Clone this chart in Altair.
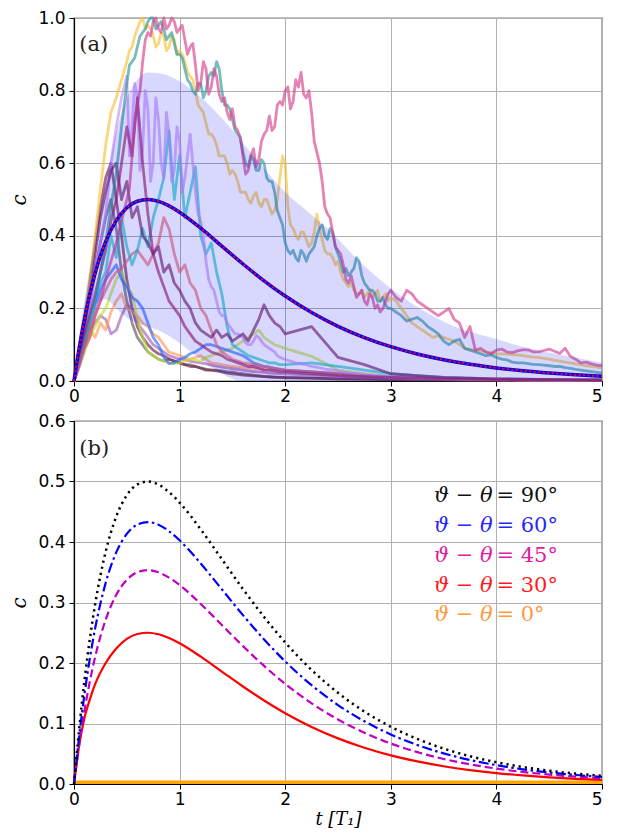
import altair as alt
import pandas as pd

# ---------------- data ----------------
# smooth curves (panel b and mean curve of panel a)
T_SMOOTH = [0, 0.05, 0.1, 0.15, 0.2, 0.3, 0.4, 0.5, 0.6, 0.7, 0.8, 0.9, 1.0, 1.2, 1.4,
            1.6, 1.8, 2.0, 2.25, 2.5, 2.75, 3.0, 3.25, 3.5, 3.75, 4.0, 4.25, 4.5, 4.75, 5.0]
C_90 = [0, 0.0928, 0.1722, 0.2398, 0.2968, 0.384, 0.442, 0.4773, 0.4952, 0.5, 0.4949, 0.4825,
        0.4651, 0.4209, 0.3716, 0.3223, 0.276, 0.234, 0.1886, 0.1507, 0.1197, 0.0946, 0.0745,
        0.0586, 0.0459, 0.036, 0.0281, 0.022, 0.0172, 0.0134]
C_60 = [0, 0.0804, 0.1491, 0.2077, 0.257, 0.3325, 0.3828, 0.4133, 0.4288, 0.433, 0.4286, 0.4178,
        0.4028, 0.3645, 0.3218, 0.2791, 0.239, 0.2026, 0.1633, 0.1305, 0.1037, 0.0819, 0.0645,
        0.0507, 0.0397, 0.0312, 0.0243, 0.0191, 0.0149, 0.0116]
C_45 = [0, 0.0656, 0.1218, 0.1696, 0.2099, 0.2715, 0.3125, 0.3375, 0.3502, 0.3536, 0.3499, 0.3412,
        0.3289, 0.2976, 0.2628, 0.2279, 0.1952, 0.1655, 0.1334, 0.1066, 0.0846, 0.0669, 0.0527,
        0.0414, 0.0325, 0.0255, 0.0199, 0.0156, 0.0122, 0.0095]
C_30 = [0, 0.065, 0.11, 0.14, 0.165, 0.2, 0.224, 0.24, 0.248, 0.25, 0.2475, 0.2413, 0.2326,
        0.2105, 0.1858, 0.1612, 0.138, 0.117, 0.0943, 0.0754, 0.0599, 0.0473, 0.0373, 0.0293,
        0.023, 0.018, 0.0141, 0.011, 0.0086, 0.0067]
T_ZERO = [0, 5]
C_0 = [0.003, 0.003]

# shaded band of panel (a)
BAND_T = [0, 0.1, 0.2, 0.3, 0.4, 0.5, 0.6, 0.7, 0.8, 0.9, 1.0, 1.2, 1.4, 1.6, 1.8, 2.0, 2.2,
          2.4, 2.7, 3.0, 3.3, 3.6, 4.0, 4.3, 4.6, 5.0]
BAND_UP = [0, 0.224, 0.384, 0.543, 0.684, 0.779, 0.83, 0.85, 0.848, 0.84, 0.825, 0.782, 0.724,
           0.655, 0.585, 0.52, 0.47, 0.42, 0.33, 0.255, 0.195, 0.15, 0.115, 0.09, 0.072, 0.05]
BAND_LO = [0, 0.12, 0.21, 0.225, 0.2, 0.175, 0.16, 0.15, 0.14, 0.125, 0.105, 0.06, 0.02,
           0, 0, 0, 0, 0, 0, 0, 0, 0, 0, 0, 0, 0]

# sampling times of the trajectories
T_A = [round(0.05 * i, 2) for i in range(61)] + [round(3.1 + 0.1 * i, 1) for i in range(20)]
T_MID = [round(0.525 + 0.05 * i, 3) for i in range(50)] + [round(3.05 + 0.1 * i, 2) for i in range(20)]
T_B = [round(0.05 * i, 2) for i in range(41)] + [2.25, 2.5, 2.75, 3.0, 3.25, 3.5, 3.75, 4.0,
                                                  4.25, 4.5, 4.75, 5.0]

C_PINK = [0, 0.04, 0.09, 0.12, 0.18, 0.22, 0.28, 0.33, 0.38, 0.44, 0.5,
          0.62, 0.76, 0.88, 0.96, 0.99, 0.97, 1.0, 0.98, 0.99, 0.97,
          0.94, 0.92, 0.87, 0.82, 0.86, 0.81, 0.84, 0.77, 0.74, 0.75,
          0.69, 0.62, 0.58, 0.64, 0.61, 0.68, 0.73, 0.7, 0.77, 0.8,
          0.75, 0.83, 0.85, 0.78, 0.74, 0.63, 0.55, 0.46, 0.41, 0.36,
          0.32, 0.27, 0.26, 0.24, 0.22, 0.24, 0.2, 0.19, 0.22, 0.25,
          0.22, 0.24, 0.21, 0.19, 0.19, 0.17, 0.12, 0.085, 0.08, 0.085,
          0.08, 0.083, 0.086, 0.08, 0.088, 0.076, 0.068, 0.05, 0.047, 0.042]
C_PINK_MID = [0.53, 0.72, 0.8, 0.94, 0.95, 1.0, 0.96, 0.97, 1.0, 0.96,
              0.98, 0.9, 0.93, 0.8, 0.88, 0.79, 0.86, 0.79, 0.78, 0.72,
              0.7, 0.67, 0.57, 0.62, 0.59, 0.66, 0.69, 0.69, 0.76, 0.76,
              0.81, 0.77, 0.81, 0.79, 0.8, 0.66, 0.6, 0.48, 0.45, 0.37,
              0.35, 0.28, 0.29, 0.23, 0.25, 0.21, 0.23, 0.21, 0.2, 0.24,
              0.23, 0.25, 0.22, 0.2, 0.18, 0.2, 0.16, 0.15, 0.09, 0.075,
              0.088, 0.078, 0.086, 0.08, 0.084, 0.082, 0.09, 0.06, 0.052, 0.044]
C_TEAL = [0, 0.05, 0.1, 0.16, 0.22, 0.3, 0.38, 0.48, 0.57, 0.7, 0.82,
          0.88, 0.92, 0.96, 0.99, 1.0, 0.98, 0.97, 0.95, 0.93, 0.9,
          0.86, 0.82, 0.79, 0.82, 0.8, 0.85, 0.88, 0.8, 0.76, 0.72,
          0.68, 0.63, 0.59, 0.61, 0.58, 0.6, 0.55, 0.52, 0.45, 0.38,
          0.35, 0.34, 0.36, 0.33, 0.36, 0.4, 0.43, 0.39, 0.41, 0.35,
          0.3, 0.29, 0.31, 0.33, 0.27, 0.25, 0.24, 0.22, 0.21, 0.2,
          0.18, 0.17, 0.165, 0.14, 0.11, 0.11, 0.09, 0.08, 0.07, 0.065,
          0.058, 0.05, 0.048, 0.045, 0.042, 0.04, 0.035, 0.03, 0.026, 0.022]
C_TEAL_MID = [0.87, 0.89, 0.95, 0.97, 1.0, 0.97, 0.99, 0.94, 0.96, 0.9,
              0.89, 0.83, 0.8, 0.82, 0.78, 0.84, 0.84, 0.86, 0.76, 0.75,
              0.69, 0.67, 0.6, 0.62, 0.58, 0.61, 0.56, 0.55, 0.47, 0.43,
              0.36, 0.36, 0.33, 0.35, 0.35, 0.37, 0.42, 0.4, 0.42, 0.37,
              0.33, 0.31, 0.3, 0.34, 0.29, 0.26, 0.25, 0.22, 0.23, 0.2,
              0.19, 0.165, 0.175, 0.15, 0.13, 0.1, 0.115, 0.085, 0.075, 0.072,
              0.06, 0.052, 0.05, 0.046, 0.044, 0.04, 0.037, 0.032, 0.028, 0.024]
C_YELLOW = [0, 0.09, 0.18, 0.28, 0.4, 0.53, 0.65, 0.74, 0.78, 0.83, 0.88,
            0.92, 0.97, 1.0, 0.98, 0.95, 0.93, 0.95, 0.92, 0.94, 0.91,
            0.88, 0.84, 0.8, 0.75, 0.71, 0.68, 0.65, 0.62, 0.6, 0.58,
            0.55, 0.52, 0.5, 0.51, 0.49, 0.5, 0.48, 0.47, 0.56, 0.6,
            0.43, 0.4, 0.41, 0.39, 0.38, 0.46, 0.39, 0.35, 0.34, 0.33,
            0.28, 0.26, 0.25, 0.24, 0.23, 0.25, 0.24, 0.22, 0.24, 0.23,
            0.2, 0.16, 0.14, 0.12, 0.12, 0.11, 0.09, 0.085, 0.08, 0.075,
            0.074, 0.072, 0.068, 0.065, 0.06, 0.055, 0.05, 0.045, 0.04, 0.036]
C_YELLOW_MID = [0.91, 0.95, 0.99, 0.97, 0.97, 0.92, 0.96, 0.91, 0.95, 0.9,
                0.9, 0.85, 0.83, 0.76, 0.74, 0.68, 0.67, 0.62, 0.62, 0.57,
                0.57, 0.52, 0.52, 0.49, 0.52, 0.48, 0.5, 0.46, 0.5, 0.62,
                0.48, 0.42, 0.39, 0.41, 0.37, 0.41, 0.42, 0.36, 0.35, 0.32,
                0.3, 0.27, 0.27, 0.24, 0.25, 0.24, 0.23, 0.25, 0.23, 0.22,
                0.22, 0.18, 0.15, 0.13, 0.125, 0.115, 0.1, 0.088, 0.082, 0.078,
                0.075, 0.073, 0.07, 0.066, 0.062, 0.057, 0.052, 0.047, 0.042, 0.038]
C_LAVENDER = [0, 0.06, 0.12, 0.2, 0.3, 0.38, 0.46, 0.6, 0.7, 0.78, 0.84,
              0.7, 0.78, 0.64, 0.75, 0.6, 0.72, 0.56, 0.68, 0.58, 0.66,
              0.56, 0.68, 0.52, 0.44, 0.33, 0.26, 0.22, 0.18, 0.16, 0.14,
              0.13, 0.12, 0.1, 0.11, 0.12, 0.1, 0.09, 0.08, 0.065, 0.06,
              0.055, 0.05, 0.048, 0.045, 0.04, 0.038, 0.035, 0.032, 0.03, 0.028,
              0.025, 0.023, 0.021, 0.02, 0.018, 0.016, 0.015, 0.014, 0.013, 0.012,
              0.011, 0.01, 0.009, 0.008, 0.008, 0.007, 0.006, 0.006, 0.005, 0.005,
              0.004, 0.004, 0.004, 0.003, 0.003, 0.003, 0.002, 0.002, 0.002, 0.002]
C_LAVENDER_MID = [0.62, 0.82, 0.58, 0.8, 0.55, 0.78, 0.6, 0.74, 0.55, 0.7,
                  0.52, 0.62, 0.6, 0.46, 0.4, 0.28, 0.25, 0.19, 0.18, 0.15,
                  0.13, 0.125, 0.105, 0.1, 0.125, 0.11, 0.095, 0.085, 0.07, 0.062,
                  0.057, 0.052, 0.049, 0.046, 0.042, 0.039, 0.036, 0.033, 0.031, 0.029,
                  0.026, 0.024, 0.022, 0.02, 0.019, 0.017, 0.015, 0.014, 0.013, 0.012,
                  0.011, 0.01, 0.009, 0.008, 0.008, 0.007, 0.006, 0.006, 0.005, 0.005,
                  0.004, 0.004, 0.004, 0.003, 0.003, 0.003, 0.002, 0.002, 0.002, 0.002]

C_TURQ = [0, 0.06, 0.12, 0.17, 0.22, 0.27, 0.3, 0.4, 0.34, 0.45, 0.37,
          0.32, 0.36, 0.42, 0.37, 0.45, 0.5, 0.56, 0.69, 0.5, 0.62,
          0.45, 0.52, 0.59, 0.4, 0.35, 0.38, 0.3, 0.24, 0.15, 0.1,
          0.09, 0.08, 0.07, 0.065, 0.06, 0.055, 0.05, 0.05, 0.045, 0.045,
          0.05, 0.04, 0.03, 0.02, 0.015, 0.01, 0.008, 0.006, 0.005, 0.004, 0.003, 0.003]
C_CRIMSON = [0, 0.06, 0.12, 0.18, 0.24, 0.3, 0.36, 0.44, 0.5, 0.6, 0.7,
             0.62, 0.78, 0.6, 0.46, 0.35, 0.3, 0.26, 0.22, 0.2, 0.18,
             0.15, 0.13, 0.11, 0.1, 0.09, 0.08, 0.075, 0.07, 0.06, 0.055,
             0.05, 0.045, 0.04, 0.04, 0.035, 0.03, 0.03, 0.028, 0.025, 0.025,
             0.02, 0.015, 0.012, 0.01, 0.008, 0.006, 0.005, 0.004, 0.003, 0.003, 0.002, 0.002]
C_PLUM = [0, 0.07, 0.15, 0.25, 0.35, 0.45, 0.52, 0.58, 0.6, 0.5, 0.55,
          0.45, 0.48, 0.4, 0.38, 0.35, 0.37, 0.3, 0.32, 0.27, 0.25,
          0.22, 0.2, 0.16, 0.14, 0.13, 0.12, 0.14, 0.12, 0.13, 0.11,
          0.12, 0.13, 0.11, 0.14, 0.17, 0.21, 0.18, 0.16, 0.15, 0.13,
          0.15, 0.065, 0.045, 0.02, 0.015, 0.01, 0.008, 0.006, 0.005, 0.004, 0.003, 0.002]
C_MAROON = [0, 0.08, 0.17, 0.27, 0.38, 0.48, 0.56, 0.6, 0.5, 0.4, 0.28,
            0.2, 0.15, 0.12, 0.1, 0.085, 0.075, 0.07, 0.06, 0.055, 0.05,
            0.045, 0.04, 0.04, 0.035, 0.03, 0.03, 0.028, 0.025, 0.022, 0.02,
            0.018, 0.016, 0.015, 0.014, 0.013, 0.012, 0.011, 0.01, 0.01, 0.009,
            0.008, 0.006, 0.005, 0.004, 0.003, 0.003, 0.002, 0.002, 0.002, 0.001, 0.001, 0.001]
C_GRAY = [0, 0.07, 0.14, 0.22, 0.3, 0.38, 0.45, 0.5, 0.42, 0.3, 0.22,
          0.16, 0.12, 0.1, 0.08, 0.07, 0.06, 0.055, 0.06, 0.055, 0.05,
          0.045, 0.045, 0.04, 0.036, 0.033, 0.03, 0.03, 0.028, 0.026, 0.025,
          0.022, 0.02, 0.018, 0.016, 0.015, 0.013, 0.012, 0.011, 0.01, 0.01,
          0.008, 0.006, 0.005, 0.004, 0.003, 0.003, 0.002, 0.002, 0.002, 0.001, 0.001, 0.001]
C_BLUE = [0, 0.05, 0.1, 0.15, 0.2, 0.25, 0.28, 0.3, 0.32, 0.28, 0.26,
          0.23, 0.22, 0.2, 0.16, 0.12, 0.1, 0.065, 0.048, 0.05, 0.06,
          0.065, 0.075, 0.08, 0.09, 0.1, 0.1, 0.095, 0.09, 0.085, 0.08,
          0.075, 0.07, 0.06, 0.05, 0.045, 0.04, 0.038, 0.035, 0.032, 0.03,
          0.025, 0.02, 0.015, 0.01, 0.008, 0.006, 0.005, 0.004, 0.003, 0.003, 0.002, 0.002]
C_YGREEN = [0, 0.04, 0.08, 0.12, 0.15, 0.18, 0.2, 0.24, 0.28, 0.3, 0.26,
            0.24, 0.17, 0.12, 0.08, 0.07, 0.06, 0.055, 0.05, 0.048, 0.05,
            0.055, 0.06, 0.058, 0.055, 0.065, 0.07, 0.075, 0.08, 0.085, 0.09,
            0.1, 0.11, 0.12, 0.13, 0.14, 0.12, 0.11, 0.1, 0.095, 0.09,
            0.068, 0.03, 0.02, 0.012, 0.009, 0.007, 0.005, 0.004, 0.003, 0.003, 0.002, 0.002]
C_SALMON = [0, 0.05, 0.1, 0.14, 0.18, 0.22, 0.25, 0.28, 0.3, 0.31, 0.33,
            0.35, 0.36, 0.34, 0.32, 0.35, 0.38, 0.45, 0.42, 0.35, 0.3,
            0.32, 0.27, 0.25, 0.2, 0.18, 0.14, 0.1, 0.08, 0.07, 0.06,
            0.055, 0.05, 0.048, 0.045, 0.042, 0.04, 0.038, 0.035, 0.033, 0.03,
            0.025, 0.02, 0.015, 0.01, 0.008, 0.006, 0.005, 0.004, 0.003, 0.003, 0.002, 0.002]
C_PEACH = [0, 0.06, 0.1, 0.14, 0.12, 0.16, 0.14, 0.19, 0.22, 0.24, 0.2,
           0.19, 0.18, 0.16, 0.15, 0.13, 0.12, 0.1, 0.08, 0.075, 0.07,
           0.065, 0.06, 0.065, 0.07, 0.06, 0.05, 0.048, 0.045, 0.042, 0.04,
           0.038, 0.037, 0.036, 0.035, 0.034, 0.033, 0.032, 0.031, 0.03, 0.03,
           0.025, 0.02, 0.015, 0.01, 0.008, 0.006, 0.005, 0.004, 0.003, 0.003, 0.002, 0.002]
C_MAUVE = [0, 0.05, 0.1, 0.14, 0.16, 0.18, 0.17, 0.13, 0.14, 0.18, 0.21,
           0.2, 0.16, 0.14, 0.12, 0.1, 0.09, 0.08, 0.07, 0.065, 0.06,
           0.058, 0.055, 0.052, 0.05, 0.047, 0.044, 0.041, 0.038, 0.036, 0.034,
           0.032, 0.03, 0.028, 0.026, 0.025, 0.024, 0.022, 0.021, 0.02, 0.02,
           0.016, 0.013, 0.01, 0.008, 0.006, 0.005, 0.004, 0.003, 0.003, 0.002, 0.002, 0.001]

# (times, values, extra times, extra values, colour), drawn bottom to top
TRACES = [
    (T_B, C_GRAY, [], [], "#5a5a5a"),
    (T_B, C_MAROON, [], [], "#6e1f48"),
    (T_B, C_MAUVE, [], [], "#a45cbc"),
    (T_B, C_PEACH, [], [], "#ff9a55"),
    (T_B, C_YGREEN, [], [], "#bfe234"),
    (T_B, C_BLUE, [], [], "#2f6dff"),
    (T_B, C_SALMON, [], [], "#ee6a6a"),
    (T_B, C_TURQ, [], [], "#1ec8c0"),
    (T_A, C_LAVENDER, T_MID, C_LAVENDER_MID, "#c890f8"),
    (T_B, C_PLUM, [], [], "#7a2058"),
    (T_B, C_CRIMSON, [], [], "#a8205e"),
    (T_A, C_YELLOW, T_MID, C_YELLOW_MID, "#f4c23a"),
    (T_A, C_TEAL, T_MID, C_TEAL_MID, "#2e9a9a"),
    (T_A, C_PINK, T_MID, C_PINK_MID, "#d8408e"),
]

LEGEND_RIGHT = ["= 90°", "= 60°", "= 45°", "= 30°", "= 0°"]
LEGEND_COLORS = ["#111111", "#2626ff", "#e0209f", "#ff1a1a", "#ff9a3c"]

# ---------------- chart ----------------
W, H = 528, 363
SERIF = "DejaVu Serif"
LAST_RIGHT = {"condition": {"test": "datum.value == 5", "value": "right"}, "value": "center"}


def enc(ymax, ystep_vals, xtitle):
    x = alt.X("t:Q", scale=alt.Scale(domain=[0, 5], nice=False, zero=False),
              axis=alt.Axis(values=[0, 1, 2, 3, 4, 5], format="d", title=xtitle,
                            labelAlign=LAST_RIGHT))
    y = alt.Y("c:Q", scale=alt.Scale(domain=[0, ymax], nice=False),
              axis=alt.Axis(values=ystep_vals, format=".1f", title="c"))
    return x, y


xa, ya = enc(1.0, [0, 0.2, 0.4, 0.6, 0.8, 1.0], None)
xb, yb = enc(0.6, [0, 0.1, 0.2, 0.3, 0.4, 0.5, 0.6], "t [T₁]")

layers_a = []
for tt, cc, tm, cm, col in TRACES:
    if len(tt) != len(cc) or len(tm) != len(cm):
        raise ValueError(f"length mismatch for {col}: {len(tt)}/{len(cc)} {len(tm)}/{len(cm)}")
    df = pd.DataFrame({"t": list(tt) + list(tm), "c": list(cc) + list(cm)})
    df = df.sort_values("t").reset_index(drop=True)
    layers_a.append(alt.Chart(df).mark_line(color=col, opacity=0.65, strokeWidth=2.8,
                                            strokeJoin="round").encode(x=xa, y=ya, order="t:Q"))

band_df = pd.DataFrame({"t": BAND_T, "c": BAND_LO, "up": BAND_UP})
band = alt.Chart(band_df).mark_area(color="#0000ff", opacity=0.15, interpolate="monotone",
                                    stroke="#0000ff", strokeOpacity=0.18, strokeWidth=1
                                    ).encode(x=xa, y=ya, y2="up:Q")

mean_df = pd.DataFrame({"t": T_SMOOTH, "c": C_90})
mean_blue = alt.Chart(mean_df).mark_line(color="#0000ff", strokeWidth=3.5,
                                         interpolate="monotone").encode(x=xa, y=ya)
mean_red = alt.Chart(mean_df).mark_line(color="#ff0000", strokeWidth=2, strokeDash=[2, 2.5],
                                        interpolate="monotone").encode(x=xa, y=ya)

label_a = alt.Chart(pd.DataFrame({"k": [0]})).mark_text(
    text="(a)", font=SERIF, fontSize=21, align="left", baseline="middle", color="#222222"
).encode(x=alt.datum(0.05), y=alt.datum(0.925))

panel_a = alt.layer(*layers_a, band, mean_blue, mean_red, label_a).properties(width=W, height=H)


def curve(tt, cc, col, width, dash=None):
    kw = dict(color=col, strokeWidth=width, interpolate="monotone")
    if dash:
        kw["strokeDash"] = dash
    return alt.Chart(pd.DataFrame({"t": tt, "c": cc})).mark_line(**kw).encode(x=xb, y=yb)


lines_b = [
    curve(T_ZERO, C_0, "#ffa500", 3.5),
    curve(T_SMOOTH, C_30, "#ff0000", 2.2),
    curve(T_SMOOTH, C_45, "#bf00bf", 2.2, [8, 4]),
    curve(T_SMOOTH, C_60, "#0000ff", 2.2, [10, 3.5, 2.5, 3.5]),
    curve(T_SMOOTH, C_90, "#000000", 2.5, [2.2, 4]),
]

LEG_Y = [0.476, 0.427, 0.377, 0.328, 0.279]
texts_b = []
for lab, col, yy in zip(LEGEND_RIGHT, LEGEND_COLORS, LEG_Y):
    src = pd.DataFrame({"k": [0]})
    texts_b.append(alt.Chart(src).mark_text(text="ϑ − θ", font=SERIF, fontStyle="italic",
                                            fontSize=21, align="right", baseline="middle",
                                            color=col).encode(x=alt.datum(3.965), y=alt.datum(yy)))
    texts_b.append(alt.Chart(src).mark_text(text=lab, font=SERIF, fontSize=21, align="left",
                                            baseline="middle", color=col
                                            ).encode(x=alt.datum(4.0), y=alt.datum(yy)))

label_b = alt.Chart(pd.DataFrame({"k": [0]})).mark_text(
    text="(b)", font=SERIF, fontSize=21, align="left", baseline="middle", color="#222222"
).encode(x=alt.datum(0.05), y=alt.datum(0.554))

panel_b = alt.layer(*lines_b, *texts_b, label_b).properties(width=W, height=H)

chart = alt.vconcat(panel_a, panel_b, spacing=6).properties(
    padding={"left": 0, "top": 0, "right": 0, "bottom": 0}
).configure_axis(
    labelFont="DejaVu Sans", labelFontSize=17, labelColor="black",
    tickColor="black", tickSize=5, tickWidth=1,
    domainColor="black", domainWidth=1.2,
    gridColor="#b0b0b0", gridWidth=1,
    titleFont=SERIF, titleFontStyle="italic", titleFontWeight="normal",
    titleFontSize=20, titleColor="black",
).configure_axisY(labelPadding=4, titlePadding=8.5).configure_axisX(
    labelPadding=2, titlePadding=3, titleFontSize=18
).configure_view(stroke="black", strokeWidth=1.2)

chart.save("out.html", embed_options={"renderer": "svg", "actions": False})
